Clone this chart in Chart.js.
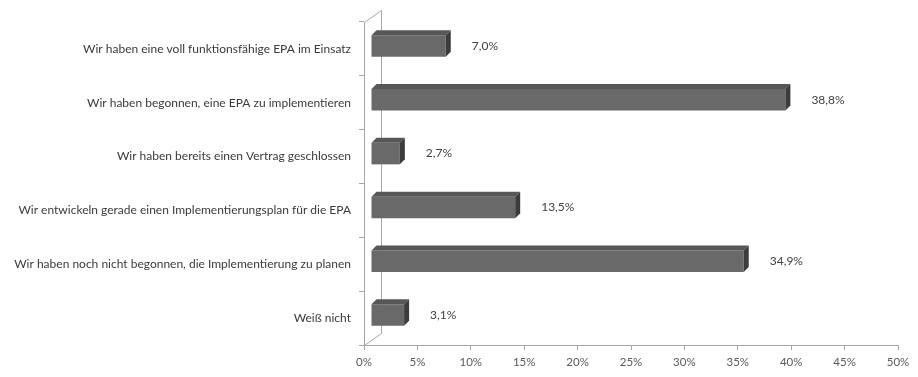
<!DOCTYPE html>
<html>
<head>
<meta charset="utf-8">
<script src="https://cdn.jsdelivr.net/npm/chart.js@4/dist/chart.umd.min.js"></script>
<style>
  html, body { margin: 0; padding: 0; background: #ffffff; }
  #wrap { width: 918px; height: 377px; }
</style>
</head>
<body>
<div id="wrap"><canvas id="c" width="918" height="377"></canvas></div>
<script>
const categories = [
  "Wir haben eine voll funktionsfähige EPA im Einsatz",
  "Wir haben begonnen, eine EPA zu implementieren",
  "Wir haben bereits einen Vertrag geschlossen",
  "Wir entwickeln gerade einen Implementierungsplan für die EPA",
  "Wir haben noch nicht begonnen, die Implementierung zu planen",
  "Weiß nicht"
];
const values = [7.0, 38.8, 2.7, 13.5, 34.9, 3.1];
const valueLabels = ["7,0%", "38,8%", "2,7%", "13,5%", "34,9%", "3,1%"];
const xTicks = [0, 5, 10, 15, 20, 25, 30, 35, 40, 45, 50];

const BAR_SHIFT = { x: 7, y: -3 };   // bar position inside the 3D depth
const BAR_DEPTH = { x: 5, y: -5 };   // bar's own depth
const WALL_DEPTH = { x: 17, y: -12 }; // depth of the plot box
const AXIS_COLOR = '#a6a6a6';
const FONT = 'Lato, "Open Sans", sans-serif';

const threeD = {
  id: 'threeD',
  beforeDatasetsDraw(chart) {
    const ctx = chart.ctx, a = chart.chartArea;
    ctx.save();
    ctx.strokeStyle = AXIS_COLOR;
    ctx.lineWidth = 1;
    ctx.beginPath();
    ctx.moveTo(a.left + 0.5, a.top + 0.5);
    ctx.lineTo(a.left + WALL_DEPTH.x + 0.5, a.top + WALL_DEPTH.y + 0.5);
    ctx.lineTo(a.left + WALL_DEPTH.x + 0.5, a.bottom + WALL_DEPTH.y + 0.5);
    ctx.lineTo(a.left + 0.5, a.bottom + 0.5);
    ctx.stroke();
    ctx.restore();
    ctx.save();
    ctx.translate(BAR_SHIFT.x, BAR_SHIFT.y);
  },
  afterDatasetsDraw(chart) {
    const ctx = chart.ctx;
    const meta = chart.getDatasetMeta(0);
    meta.data.forEach((bar, i) => {
      const x0 = bar.base, x1 = bar.x;
      const y0 = bar.y - bar.height / 2, y1 = bar.y + bar.height / 2;
      const dx = BAR_DEPTH.x, dy = BAR_DEPTH.y;
      ctx.fillStyle = '#575757';
      ctx.beginPath();
      ctx.moveTo(x0, y0);
      ctx.lineTo(x0 + dx, y0 + dy);
      ctx.lineTo(x1 + dx, y0 + dy);
      ctx.lineTo(x1, y0);
      ctx.closePath();
      ctx.fill();
      ctx.fillStyle = '#3c3c3c';
      ctx.beginPath();
      ctx.moveTo(x1, y0);
      ctx.lineTo(x1 + dx, y0 + dy);
      ctx.lineTo(x1 + dx, y1 + dy);
      ctx.lineTo(x1, y1);
      ctx.closePath();
      ctx.fill();
      ctx.fillStyle = '#404040';
      ctx.font = '12px ' + FONT;
      ctx.textAlign = 'left';
      ctx.textBaseline = 'middle';
      ctx.fillText(valueLabels[i], x1 + 26, bar.y);
    });
    ctx.restore();
  }
};

new Chart(document.getElementById('c'), {
  type: 'bar',
  data: {
    labels: categories,
    datasets: [{
      data: values,
      backgroundColor: '#696969',
      borderWidth: 0,
      barPercentage: 0.4,
      categoryPercentage: 1.0
    }]
  },
  options: {
    indexAxis: 'y',
    responsive: false,
    devicePixelRatio: 1,
    animation: false,
    layout: { padding: { top: 22, right: 20, left: 0, bottom: 0 } },
    plugins: { legend: { display: false }, tooltip: { enabled: false } },
    scales: {
      x: {
        type: 'linear',
        min: 0, max: 50,
        afterBuildTicks(scale) { scale.ticks = xTicks.map(v => ({ value: v })); },
        afterFit(scale) { scale.height = 32; },
        ticks: {
          callback: v => v + '%',
          color: '#595959',
          font: { family: FONT, size: 11.5 },
          padding: 5,
          maxRotation: 0
        },
        grid: { drawOnChartArea: false, tickLength: 5, color: AXIS_COLOR },
        border: { display: true, color: AXIS_COLOR }
      },
      y: {
        afterFit(scale) { scale.width = 364; },
        ticks: {
          color: '#3a3a3a',
          font: { family: FONT, size: 12 },
          padding: 8
        },
        grid: { offset: true, drawOnChartArea: false, tickLength: 5, color: AXIS_COLOR },
        border: { display: true, color: AXIS_COLOR }
      }
    }
  },
  plugins: [threeD]
});
</script>
</body>
</html>
